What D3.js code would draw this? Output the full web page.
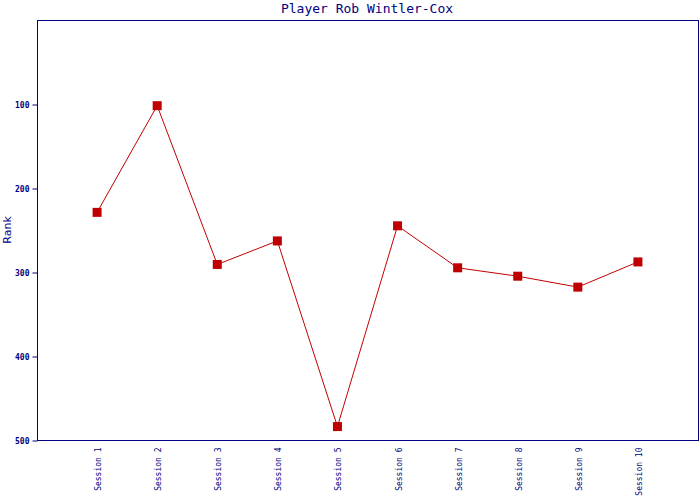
<!DOCTYPE html>
<html><head><meta charset="utf-8">
<script src="https://cdn.jsdelivr.net/npm/d3@7"></script>
<style>body{margin:0;background:#fff}</style>
</head><body>
<svg id="c" width="700" height="500"></svg>
<script>
const categories = ["Session 1","Session 2","Session 3","Session 4","Session 5","Session 6","Session 7","Session 8","Session 9","Session 10"];
const ranks = [229, 102, 291, 263, 484, 245, 295, 305, 318, 288];
const yTicks = [100, 200, 300, 400, 500];
const title = "Player Rob Wintler-Cox";
const yLabel = "Rank";

const svg = d3.select("#c");
const L = 37, R = 698, T = 20, B = 440;
const navy = "#000080", red = "#c00000";

const x = d3.scalePoint().domain(categories).range([L, R]).padding(1);
const y = d3.scaleLinear().domain([0, 500]).range([T, B]);

svg.append("text").attr("x", 367).attr("y", 13).attr("text-anchor", "middle")
  .attr("font-family", "DejaVu Sans Mono, monospace").attr("font-size", 13).attr("fill", navy).text(title);

svg.append("rect").attr("x", L + 0.5).attr("y", T + 0.5).attr("width", R - L).attr("height", B - T)
  .attr("fill", "none").attr("stroke", navy).attr("stroke-width", 1);

const ya = svg.append("g").attr("transform", `translate(${L + 0.5},0.5)`)
  .call(d3.axisLeft(y).tickValues(yTicks).tickSize(5).tickPadding(3));
ya.select(".domain").remove();
ya.selectAll("line").attr("stroke", navy);
ya.selectAll("text").attr("fill", navy).attr("font-family", "DejaVu Sans Mono, monospace")
  .attr("font-size", 8).attr("font-weight", "bold");

const xa = svg.append("g").attr("transform", `translate(0.5,${B + 0.5})`)
  .call(d3.axisBottom(x).tickSize(0).tickPadding(0));
xa.select(".domain").remove();
xa.selectAll("text").attr("fill", navy).attr("font-family", "DejaVu Sans Mono, monospace")
  .attr("font-size", 8).attr("text-anchor", "end").attr("dy", null)
  .attr("transform", "translate(3,7) rotate(-90)");

svg.append("text").attr("transform", "translate(11,230) rotate(-90)").attr("text-anchor", "middle")
  .attr("font-family", "DejaVu Sans, sans-serif").attr("font-size", 11).attr("fill", navy).text(yLabel);

svg.append("path").datum(ranks.map((v, i) => [x(categories[i]), y(v)]))
  .attr("d", d3.line()).attr("fill", "none").attr("stroke", red).attr("stroke-width", 1);

svg.selectAll("rect.m").data(ranks).join("rect").attr("class", "m")
  .attr("x", (d, i) => x(categories[i]) - 4.5).attr("y", d => y(d) - 4.5)
  .attr("width", 9).attr("height", 9).attr("fill", red);
</script>
</body></html>
